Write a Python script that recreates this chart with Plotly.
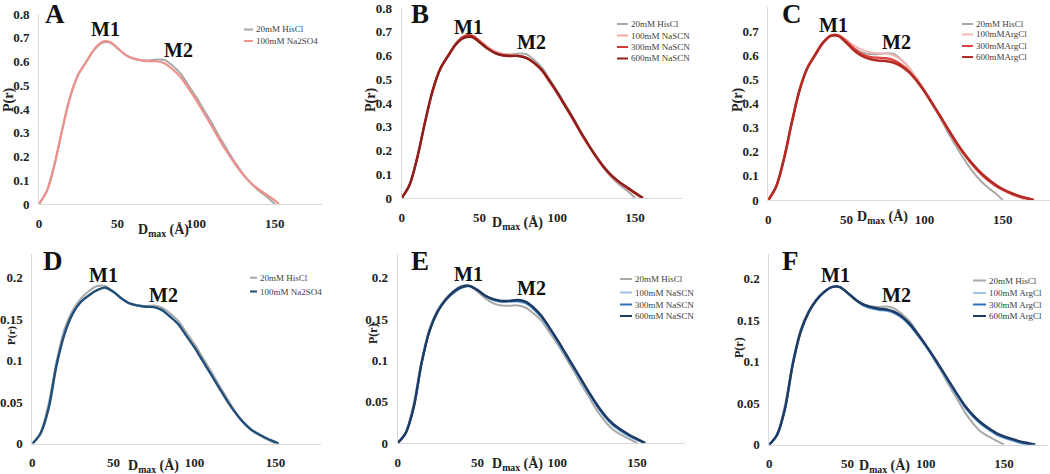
import plotly.graph_objects as go

# ---------------- data ----------------
r_std = [0, 5, 10, 15, 20, 25, 30, 35, 40, 45, 50, 55, 60, 65, 70, 75, 80, 85, 90,
         95, 100, 105, 110, 115, 120, 125, 130, 135, 140, 145, 150]

# top row (P(r) scale 0-0.8)
his_top = [0, 0.055, 0.17, 0.32, 0.455, 0.545, 0.598, 0.648, 0.678, 0.68, 0.655, 0.628, 0.612, 0.605,
           0.604, 0.608, 0.606, 0.582, 0.55, 0.50, 0.45, 0.395, 0.34, 0.28, 0.225, 0.172, 0.125,
           0.086, 0.055, 0.03, 0.0]
a_na2so4_r = r_std + [152.5]
a_na2so4 = [0, 0.055, 0.17, 0.32, 0.455, 0.545, 0.598, 0.65, 0.682, 0.683, 0.656, 0.628, 0.613, 0.605,
            0.602, 0.601, 0.592, 0.567, 0.535, 0.488, 0.437, 0.382, 0.327, 0.268, 0.215, 0.166,
            0.122, 0.087, 0.06, 0.038, 0.015, 0.0]

b100_r = r_std + [154]
b100 = [0, 0.052, 0.165, 0.315, 0.45, 0.542, 0.598, 0.648, 0.679, 0.685, 0.665, 0.638, 0.618, 0.608,
        0.603, 0.600, 0.592, 0.570, 0.538, 0.49, 0.44, 0.385, 0.33, 0.272, 0.22, 0.17, 0.126,
        0.09, 0.063, 0.04, 0.018, 0.0]
b300_r = r_std + [155]
b300 = [0, 0.055, 0.17, 0.32, 0.455, 0.547, 0.602, 0.652, 0.681, 0.684, 0.66, 0.632, 0.612, 0.602,
        0.599, 0.598, 0.59, 0.568, 0.537, 0.49, 0.44, 0.386, 0.332, 0.275, 0.222, 0.172, 0.128,
        0.092, 0.065, 0.042, 0.02, 0.0]
b600_r = r_std + [155]
b600 = [0, 0.055, 0.17, 0.32, 0.455, 0.547, 0.60, 0.648, 0.674, 0.678, 0.656, 0.63, 0.61, 0.60,
        0.598, 0.598, 0.59, 0.57, 0.54, 0.494, 0.444, 0.39, 0.336, 0.278, 0.225, 0.175, 0.13,
        0.094, 0.067, 0.044, 0.022, 0.0]

c100_r = r_std + [155, 160, 165]
c100 = [0, 0.055, 0.17, 0.32, 0.455, 0.547, 0.602, 0.652, 0.681, 0.684, 0.664, 0.64, 0.622, 0.613,
        0.608, 0.607, 0.60, 0.58, 0.548, 0.505, 0.455, 0.40, 0.345, 0.29, 0.237, 0.19, 0.148,
        0.112, 0.082, 0.058, 0.04, 0.025, 0.012, 0.0]
c300_r = r_std + [155, 160, 165, 169]
c300 = [0, 0.055, 0.17, 0.32, 0.455, 0.547, 0.602, 0.652, 0.681, 0.682, 0.658, 0.628, 0.605, 0.594,
        0.59, 0.588, 0.58, 0.562, 0.535, 0.497, 0.452, 0.40, 0.347, 0.293, 0.24, 0.193, 0.152,
        0.116, 0.086, 0.062, 0.043, 0.028, 0.016, 0.007, 0.0]
c600_r = r_std + [155, 160, 165, 170]
c600 = [0, 0.055, 0.17, 0.32, 0.455, 0.547, 0.602, 0.652, 0.681, 0.68, 0.652, 0.62, 0.597, 0.584,
        0.578, 0.576, 0.57, 0.555, 0.53, 0.494, 0.45, 0.40, 0.348, 0.295, 0.243, 0.196, 0.155,
        0.12, 0.09, 0.065, 0.045, 0.03, 0.018, 0.008, 0.0]

# bottom row (P(r) scale 0-0.2)
his_bot = [0, 0.013, 0.048, 0.10, 0.139, 0.161, 0.175, 0.184, 0.19, 0.19, 0.183, 0.175, 0.169,
           0.1665, 0.166, 0.1665, 0.164, 0.157, 0.148, 0.134, 0.12, 0.104, 0.088, 0.071, 0.055,
           0.039, 0.026, 0.016, 0.01, 0.005, 0.0]
d_na2so4_r = r_std + [152]
d_na2so4 = [0, 0.012, 0.042, 0.095, 0.133, 0.157, 0.171, 0.179, 0.185, 0.188, 0.183, 0.175, 0.169,
            0.1665, 0.165, 0.1645, 0.161, 0.153, 0.144, 0.130, 0.116, 0.100, 0.084, 0.068, 0.052,
            0.038, 0.026, 0.017, 0.011, 0.006, 0.002, 0.0]

e100_r = r_std + [155]
e100 = [0, 0.012, 0.043, 0.097, 0.136, 0.159, 0.173, 0.182, 0.188, 0.19, 0.185, 0.178, 0.173,
        0.171, 0.171, 0.171, 0.169, 0.162, 0.152, 0.138, 0.123, 0.107, 0.091, 0.075, 0.059,
        0.044, 0.031, 0.021, 0.014, 0.008, 0.004, 0.0]
e300_r = r_std + [155]
e300 = [0, 0.012, 0.043, 0.097, 0.136, 0.159, 0.173, 0.182, 0.188, 0.19, 0.185, 0.178, 0.173,
        0.171, 0.1715, 0.172, 0.170, 0.163, 0.153, 0.139, 0.124, 0.108, 0.092, 0.076, 0.060,
        0.045, 0.032, 0.022, 0.015, 0.009, 0.004, 0.0]
e600_r = r_std + [155]
e600 = [0, 0.012, 0.043, 0.097, 0.136, 0.159, 0.173, 0.183, 0.189, 0.19, 0.185, 0.178, 0.174,
        0.172, 0.172, 0.173, 0.171, 0.164, 0.154, 0.140, 0.125, 0.109, 0.093, 0.077, 0.061,
        0.046, 0.033, 0.023, 0.016, 0.010, 0.005, 0.0]

f100_r = r_std + [155, 160, 163]
f100 = [0, 0.012, 0.043, 0.097, 0.136, 0.159, 0.174, 0.184, 0.19, 0.19, 0.183, 0.174, 0.168,
        0.164, 0.162, 0.161, 0.158, 0.152, 0.143, 0.131, 0.118, 0.104, 0.089, 0.074, 0.059,
        0.045, 0.034, 0.025, 0.018, 0.012, 0.008, 0.005, 0.002, 0.0]
f300_r = r_std + [155, 160, 167]
f300 = [0, 0.012, 0.043, 0.097, 0.136, 0.159, 0.174, 0.184, 0.19, 0.19, 0.183, 0.175, 0.168,
        0.165, 0.163, 0.162, 0.159, 0.153, 0.144, 0.132, 0.119, 0.105, 0.090, 0.075, 0.060,
        0.046, 0.035, 0.026, 0.019, 0.013, 0.009, 0.006, 0.003, 0.0]
f600_r = r_std + [155, 160, 165, 170]
f600 = [0, 0.012, 0.043, 0.097, 0.136, 0.159, 0.174, 0.184, 0.19, 0.19, 0.183, 0.175, 0.169,
        0.166, 0.164, 0.163, 0.160, 0.154, 0.145, 0.133, 0.120, 0.106, 0.091, 0.076, 0.061,
        0.047, 0.036, 0.027, 0.020, 0.014, 0.010, 0.007, 0.004, 0.002, 0.0]

x_ticks = [0, 50, 100, 150]
y_ticks_top = [0, 0.1, 0.2, 0.3, 0.4, 0.5, 0.6, 0.7, 0.8]
y_labels_top = ["0", "0.1", "0.2", "0.3", "0.4", "0.5", "0.6", "0.7", "0.8"]
y_ticks_bot = [0, 0.05, 0.1, 0.15, 0.2]
y_labels_bot = ["0", "0.05", "0.1", "0.15", "0.2"]

panel_letters = ["A", "B", "C", "D", "E", "F"]

GRAY = "#a9a9a9"
panels = [
    dict(series=[("20mM HisCl", r_std, his_top, GRAY, 2.0),
                 ("100mM Na2SO4", a_na2so4_r, a_na2so4, "#ee918c", 2.2)]),
    dict(series=[("20mM HisCl", r_std, his_top, GRAY, 2.0),
                 ("100mM NaSCN", b100_r, b100, "#f3aaa5", 2.0),
                 ("300mM NaSCN", b300_r, b300, "#cf3a33", 2.2),
                 ("600mM NaSCN", b600_r, b600, "#8e1e1a", 2.4)]),
    dict(series=[("20mM HisCl", r_std, his_top, GRAY, 2.0),
                 ("100mMArgCl", c100_r, c100, "#f4b8b4", 2.0),
                 ("300mMArgCl", c300_r, c300, "#dc443d", 2.2),
                 ("600mMArgCl", c600_r, c600, "#b42a24", 2.6)]),
    dict(series=[("20mM HisCl", r_std, his_bot, GRAY, 2.0),
                 ("100mM Na2SO4", d_na2so4_r, d_na2so4, "#1f4e79", 2.4)]),
    dict(series=[("20mM HisCl", r_std, his_bot, GRAY, 2.0),
                 ("100mM NaSCN", e100_r, e100, "#9dc3e6", 2.0),
                 ("300mM NaSCN", e300_r, e300, "#2e75b6", 2.2),
                 ("600mM NaSCN", e600_r, e600, "#1f3b64", 2.4)]),
    dict(series=[("20mM HisCl", r_std, his_bot, GRAY, 2.0),
                 ("100mM ArgCl", f100_r, f100, "#9dc3e6", 2.0),
                 ("300mM ArgCl", f300_r, f300, "#2e75b6", 2.2),
                 ("600mM ArgCl", f600_r, f600, "#1f3b64", 2.4)]),
]

# ---------------- layout geometry (pixels) ----------------
W, H = 1050, 474


def fx(p):
    return p / W


def fy(p):
    return 1 - p / H


geo = [
    dict(xd=(39, 322), yd=(204, 14), xr=(0, 180), yr=(0, 0.8)),
    dict(xd=(401.7, 681.8), yd=(198, 8), xr=(0, 180), yr=(0, 0.8)),
    dict(xd=(768.3, 1049.5), yd=(200, 7), xr=(0, 180), yr=(0, 0.8)),
    dict(xd=(32.3, 321), yd=(443.7, 254), xr=(0, 178), yr=(0, 0.2286)),
    dict(xd=(397.7, 685), yd=(443, 254), xr=(0, 180), yr=(0, 0.2287)),
    dict(xd=(769.3, 1047.9), yd=(444.7, 254), xr=(0, 178), yr=(0, 0.2298)),
]

letter_pos = [(55, 14), (420, 14), (792, 14), (53, 261), (420, 261), (790, 261)]
pr_pos = [(9, 100), (371, 100), (738, 100), (11, 336), (373, 334), (739, 348)]
pr_size = [14, 14, 14, 11, 12, 12]
dmax_pos = [(163, 230), (517, 223), (882, 217), (153, 466), (517, 464), (884, 466)]
m1_pos = [(42.6, 0.737), (42.8, 0.721), (41.6, 0.726), (43.8, 0.203), (44.2, 0.204), (42, 0.204)]
m2_pos = [(89, 0.648), (83.5, 0.658), (82.1, 0.656), (80.9, 0.179), (83.9, 0.187), (81.4, 0.18)]
leg_geo = [
    (244, 253, [29.5, 41]),
    (617, 628, [24, 35.5, 47, 58.5]),
    (962, 973, [24, 34.5, 46, 57]),
    (250, 257, [277.7, 291.5]),
    (620, 632, [279, 292.5, 304.5, 316]),
    (973, 986, [280.5, 293, 304.5, 316]),
]

SERIF = "Liberation Serif"
fig = go.Figure()
annotations = []
shapes = []

for i, (pan, g) in enumerate(zip(panels, geo)):
    n = i + 1
    xa = "x" if n == 1 else f"x{n}"
    ya = "y" if n == 1 else f"y{n}"
    for name, rr, pp, col, lw in pan["series"]:
        fig.add_trace(go.Scatter(x=rr, y=pp, mode="lines", name=name, xaxis=xa, yaxis=ya,
                                 line=dict(color=col, width=lw, shape="spline", smoothing=0.9),
                                 showlegend=False, hoverinfo="x+y+name"))
    top = i < 3
    xkey = "xaxis" if n == 1 else f"xaxis{n}"
    ykey = "yaxis" if n == 1 else f"yaxis{n}"
    fig.update_layout(**{
        xkey: dict(domain=[fx(g["xd"][0]), fx(g["xd"][1])], range=list(g["xr"]), anchor=ya,
                   tickvals=x_ticks, ticktext=[str(v) for v in x_ticks], automargin=False,
                   showgrid=False, zeroline=False, showline=True, linecolor="#d9d9d9", linewidth=1,
                   ticks="", ticklabelstandoff=7,
                   tickfont=dict(family=SERIF, size=13, color="#222", weight="bold")),
        ykey: dict(domain=[fy(g["yd"][0]), fy(g["yd"][1])], range=list(g["yr"]), anchor=xa,
                   tickvals=y_ticks_top if top else y_ticks_bot, automargin=False,
                   ticktext=y_labels_top if top else y_labels_bot,
                   showgrid=False, zeroline=False, showline=True, linecolor="#d9d9d9", linewidth=1,
                   ticks="", ticklabelstandoff=6,
                   tickfont=dict(family=SERIF, size=13, color="#222", weight="bold")),
    })

    lx, ly = letter_pos[i]
    annotations.append(dict(x=fx(lx), y=fy(ly), xref="paper", yref="paper", text=panel_letters[i],
                            showarrow=False, xanchor="center", yanchor="middle",
                            font=dict(family=SERIF, size=27, color="#111", weight="bold")))
    px_, py_ = pr_pos[i]
    annotations.append(dict(x=fx(px_), y=fy(py_), xref="paper", yref="paper", text="P(r)",
                            textangle=-90, showarrow=False, xanchor="center", yanchor="middle",
                            font=dict(family=SERIF, size=pr_size[i], color="#222", weight="bold")))
    dx, dy = dmax_pos[i]
    annotations.append(dict(x=fx(dx), y=fy(dy), xref="paper", yref="paper",
                            text="D<sub>max</sub> (Å)", showarrow=False, xanchor="center",
                            yanchor="middle",
                            font=dict(family=SERIF, size=14, color="#222", weight="bold")))
    for lab, (mx, my) in (("M1", m1_pos[i]), ("M2", m2_pos[i])):
        annotations.append(dict(x=mx, y=my, xref=xa, yref=ya, text=lab, showarrow=False,
                                xanchor="center", yanchor="middle",
                                font=dict(family=SERIF, size=20, color="#111", weight="bold")))
    sx0, sx1, rows = leg_geo[i]
    for (name, rr, pp, col, lw), ry in zip(pan["series"], rows):
        shapes.append(dict(type="line", xref="paper", yref="paper", x0=fx(sx0), x1=fx(sx1),
                           y0=fy(ry), y1=fy(ry), line=dict(color=col, width=2)))
        annotations.append(dict(x=fx(sx1 + 0.5), y=fy(ry), xref="paper", yref="paper", text=name,
                                showarrow=False, xanchor="left", yanchor="middle",
                                font=dict(family=SERIF, size=9, color="#404040")))

fig.update_layout(width=W, height=H, margin=dict(l=0, r=0, t=0, b=0),
                  paper_bgcolor="white", plot_bgcolor="white",
                  annotations=annotations, shapes=shapes, showlegend=False)

fig.write_html("out.html", config={"displayModeBar": False},
               post_script="document.body.style.margin='0';document.body.style.padding='0';"
                           "document.body.style.overflow='hidden';")
